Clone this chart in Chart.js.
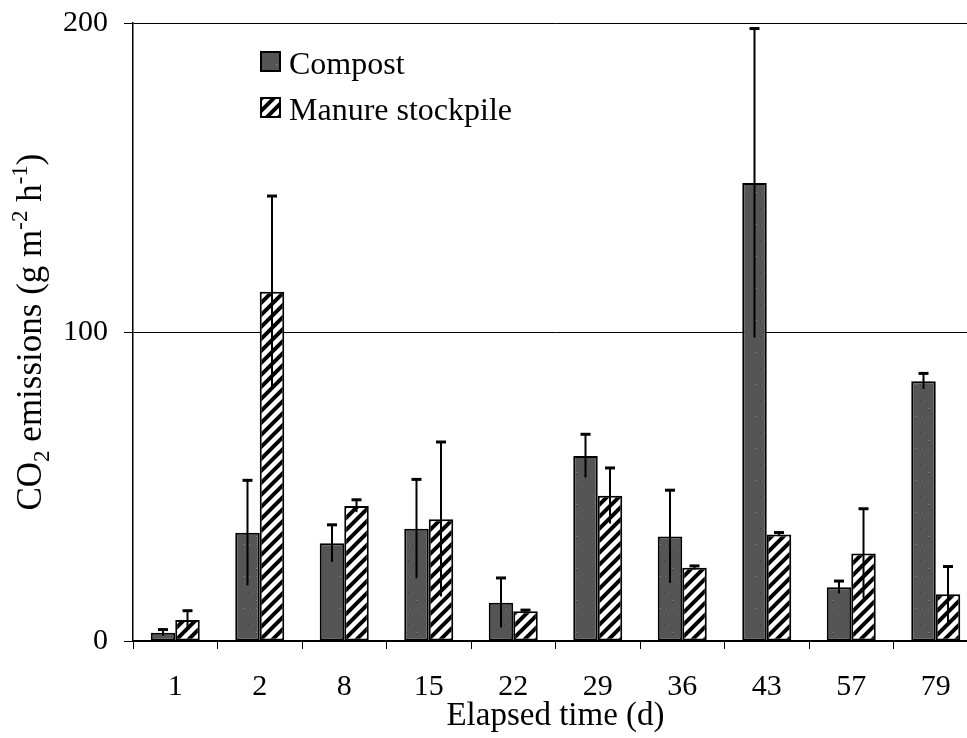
<!DOCTYPE html>
<html>
<head>
<meta charset="utf-8">
<script src="https://cdn.jsdelivr.net/npm/chart.js@4.4.1/dist/chart.umd.min.js"></script>
<style>
  html, body { margin: 0; padding: 0; background: #fff; overflow: hidden; }
  #wrap { width: 978px; height: 738px; }
</style>
</head>
<body>
<div id="wrap"><canvas id="myChart"></canvas></div>
<script>
// elapsed days (categories)
const days = ['1', '2', '8', '15', '22', '29', '36', '43', '57', '79'];
// CO2 emissions, g m-2 h-1
const compost = [2.7, 35, 31.6, 36.3, 12.4, 59.9, 33.8, 148.2, 17.4, 84.1];
const compostErr = [1, 17, 6, 16, 8, 7, 15, 50, 2, 2.5];
const manure = [6.8, 113, 43.7, 39.4, 9.6, 47, 23.7, 34.5, 28.3, 15.1];
const manureErr = [3, 31, 2, 25, 0.4, 9, 0.6, 0.6, 14.5, 9];
const yTicks = [0, 100, 200];

const serif = '"Liberation Serif", "Times New Roman", serif';
const ctx = document.getElementById('myChart').getContext('2d');

// speckled dark grey fill for compost
function stipple() {
    const c = document.createElement('canvas');
    c.width = 32; c.height = 32;
    const g = c.getContext('2d');
    g.fillStyle = '#555';
    g.fillRect(0, 0, 32, 32);
    let s = 7;
    for (let k = 0; k < 420; k++) {
        s = (s * 1103515245 + 12345) % 2147483648;
        const px = s % 32;
        s = (s * 1103515245 + 12345) % 2147483648;
        const py = s % 32;
        g.fillStyle = k % 3 === 0 ? '#8c8c8c' : (k % 3 === 1 ? '#333' : '#6e6e6e');
        g.fillRect(px, py, 1, 1);
    }
    return ctx.createPattern(c, 'repeat');
}

// black diagonal hatch for manure
function hatch() {
    const c = document.createElement('canvas');
    c.width = 12; c.height = 12;
    const g = c.getContext('2d');
    g.fillStyle = '#fff';
    g.fillRect(0, 0, 12, 12);
    g.strokeStyle = '#000';
    g.lineWidth = 4;
    g.beginPath();
    g.moveTo(-3, 15); g.lineTo(15, -3);
    g.moveTo(-9, 9); g.lineTo(9, -9);
    g.moveTo(3, 21); g.lineTo(21, 3);
    g.stroke();
    return ctx.createPattern(c, 'repeat');
}

const errors = [compostErr, manureErr];

const errorBars = {
    id: 'errorBars',
    afterDatasetsDraw(chart) {
        const c = chart.ctx;
        const y = chart.scales.y;
        c.save();
        c.strokeStyle = '#000';
        chart.data.datasets.forEach((ds, i) => {
            chart.getDatasetMeta(i).data.forEach((bar, j) => {
                const v = ds.data[j], e = errors[i][j];
                const top = y.getPixelForValue(v + e);
                const bot = y.getPixelForValue(Math.max(0, v - e));
                c.lineWidth = 2;
                c.beginPath();
                c.moveTo(bar.x, bot);
                c.lineTo(bar.x, top);
                c.stroke();
                c.lineWidth = 3;
                c.beginPath();
                c.moveTo(bar.x - 5, top);
                c.lineTo(bar.x + 5, top);
                c.stroke();
            });
        });
        c.restore();
    }
};

const legendBox = {
    id: 'legendBox',
    afterDraw(chart) {
        const c = chart.ctx;
        c.save();
        c.font = '32px ' + serif;
        c.textBaseline = 'alphabetic';
        chart.data.datasets.forEach((ds, i) => {
            const y0 = 51 + i * 46;
            c.fillStyle = ds.backgroundColor;
            c.fillRect(260, y0, 21, 21);
            c.strokeStyle = '#000';
            c.lineWidth = 2;
            c.strokeRect(261, y0 + 1, 19, 19);
            c.fillStyle = '#000';
            c.fillText(ds.label, 289, y0 + 23);
        });
        c.restore();
    }
};

// y title with real sub/superscripts
const yTitle = {
    id: 'yTitle',
    afterDraw(chart) {
        const c = chart.ctx;
        const a = chart.chartArea;
        const parts = [
            ['CO', 0, 35], ['2', 8, 23], [' emissions (g m', 0, 35],
            ['-2', -14, 23], [' h', 0, 35], ['-1', -14, 23], [')', 0, 35]
        ];
        c.save();
        let total = 0;
        parts.forEach(p => { c.font = p[2] + 'px ' + serif; total += c.measureText(p[0]).width; });
        c.translate(41, (a.top + a.bottom) / 2);
        c.rotate(-Math.PI / 2);
        c.fillStyle = '#000';
        c.textBaseline = 'alphabetic';
        let x = -total / 2;
        parts.forEach(p => {
            c.font = p[2] + 'px ' + serif;
            c.fillText(p[0], x, p[1]);
            x += c.measureText(p[0]).width;
        });
        c.restore();
    }
};

new Chart(ctx, {
    type: 'bar',
    data: {
        labels: days,
        datasets: [{
            label: 'Compost',
            data: compost,
            backgroundColor: stipple(),
            borderColor: '#000',
            borderWidth: 2,
            borderSkipped: false
        }, {
            label: 'Manure stockpile',
            data: manure,
            backgroundColor: hatch(),
            borderColor: '#000',
            borderWidth: 2,
            borderSkipped: false
        }]
    },
    options: {
        responsive: true,
        maintainAspectRatio: false,
        animation: false,
        categoryPercentage: 0.58,
        barPercentage: 1.0,
        layout: { padding: { top: 23, right: 0, left: 0, bottom: 0 } },
        plugins: {
            legend: { display: false },
            tooltip: { enabled: false }
        },
        scales: {
            x: {
                afterFit: s => { s.height = 97; s.paddingLeft = 0; s.paddingRight = 0; },
                grid: { offset: true, drawOnChartArea: false, tickLength: 8, color: '#000', lineWidth: 1 },
                border: { color: '#000', width: 1.5 },
                ticks: { color: '#000', font: { family: serif, size: 30 }, padding: 20 },
                title: {
                    display: true,
                    text: 'Elapsed time (d)',
                    color: '#000',
                    font: { family: serif, size: 33 },
                    padding: { top: 0, bottom: 2 }
                }
            },
            y: {
                min: 0,
                max: 200,
                afterFit: s => { s.width = 133; s.paddingTop = 0; s.paddingBottom = 0; },
                afterBuildTicks: s => { s.ticks = yTicks.map(v => ({ value: v })); },
                grid: { color: '#000', lineWidth: 1, tickLength: 9 },
                border: { color: '#000', width: 1.5 },
                ticks: { color: '#000', font: { family: serif, size: 30 }, padding: 16 }
            }
        }
    },
    plugins: [errorBars, legendBox, yTitle]
});
</script>
</body>
</html>
